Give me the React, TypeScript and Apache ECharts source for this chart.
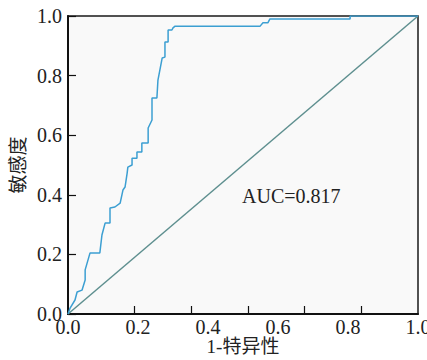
import React, { useEffect, useRef } from "react";
import * as echarts from "echarts";

const fpr = [0, 0.006, 0.02, 0.026, 0.04, 0.049, 0.049, 0.063, 0.091, 0.097, 0.106, 0.12, 0.12, 0.134, 0.149, 0.157, 0.163, 0.169, 0.171, 0.183, 0.183, 0.197, 0.197, 0.211, 0.211, 0.229, 0.229, 0.24, 0.24, 0.254, 0.257, 0.269, 0.277, 0.277, 0.286, 0.286, 0.297, 0.3, 0.306, 0.549, 0.557, 0.571, 0.577, 0.806, 0.806, 1];
const tpr = [0, 0.02, 0.047, 0.074, 0.08, 0.114, 0.148, 0.205, 0.205, 0.265, 0.305, 0.305, 0.356, 0.359, 0.372, 0.416, 0.426, 0.473, 0.493, 0.5, 0.523, 0.523, 0.544, 0.544, 0.574, 0.574, 0.624, 0.651, 0.725, 0.725, 0.785, 0.859, 0.862, 0.913, 0.913, 0.953, 0.953, 0.96, 0.966, 0.966, 0.977, 0.977, 0.99, 0.99, 1, 1];
const diagonal = [[0, 0], [1, 1]];
const xTickMarks = [0.1886, 0.3514, 0.5143, 0.674, 0.837];
const aucLabel = "AUC=0.817";
const xName = "1-特异性";
const yName = "敏感度";

const FONT = "'Liberation Serif', 'Times New Roman', 'Noto Sans CJK SC', serif";

export default function App() {
  const ref = useRef<HTMLDivElement>(null);
  useEffect(() => {
    if (!ref.current) return;
    const chart = echarts.init(ref.current, undefined, { renderer: "svg" });
    const rocData = fpr.map((x, i) => [x, tpr[i]]);
    chart.setOption({
      animation: false,
      backgroundColor: "#ffffff",
      textStyle: { fontFamily: FONT },
      grid: {
        left: 68,
        right: 9,
        top: 16,
        bottom: 46,
        containLabel: false,
        outerBoundsMode: "none",
        show: true,
        backgroundColor: "#f9f9f9",
        borderColor: "#1a1a1a",
        borderWidth: 1.5,
      },
      xAxis: {
        type: "value",
        min: 0,
        max: 1,
        interval: 0.2,
        name: xName,
        nameLocation: "middle",
        nameGap: 22,
        nameMoveOverlap: false,
        nameTextStyle: { fontFamily: FONT, fontSize: 19, color: "#222", lineHeight: 20 },
        axisLine: { show: true, lineStyle: { color: "#111", width: 2 } },
        axisTick: {
          show: true,
          inside: true,
          length: 8,
          customValues: xTickMarks,
          lineStyle: { color: "#111", width: 1.2 },
        },
        axisLabel: {
          margin: 3,
          fontFamily: FONT,
          fontSize: 20,
          color: "#222",
          formatter: (v: number) => v.toFixed(1),
        },
        splitLine: { show: false },
      },
      yAxis: {
        type: "value",
        min: 0,
        max: 1,
        interval: 0.2,
        name: yName,
        nameLocation: "middle",
        nameGap: 40,
        nameMoveOverlap: false,
        nameTextStyle: { fontFamily: FONT, fontSize: 19, color: "#222" },
        axisLine: { show: true, lineStyle: { color: "#111", width: 2 } },
        axisTick: { show: true, inside: true, length: 8, lineStyle: { color: "#111", width: 1.2 } },
        axisLabel: {
          margin: 6,
          fontFamily: FONT,
          fontSize: 20,
          color: "#222",
          formatter: (v: number) => v.toFixed(1),
        },
        splitLine: { show: false },
      },
      series: [
        {
          type: "line",
          data: diagonal,
          showSymbol: false,
          lineStyle: { color: "#5e8f8f", width: 1.5 },
          silent: true,
        },
        {
          type: "line",
          data: rocData,
          showSymbol: false,
          lineStyle: { color: "#3c9fd2", width: 1.5 },
          silent: true,
        },
      ],
      graphic: [
        {
          type: "text",
          x: 242,
          y: 196,
          style: {
            text: aucLabel,
            fontFamily: FONT,
            fontSize: 20,
            fill: "#222",
            verticalAlign: "middle",
          },
        },
      ],
    });
    return () => chart.dispose();
  }, []);
  return <div ref={ref} style={{ width: 427, height: 360, position: "absolute", left: 0, top: 0 }} />;
}
